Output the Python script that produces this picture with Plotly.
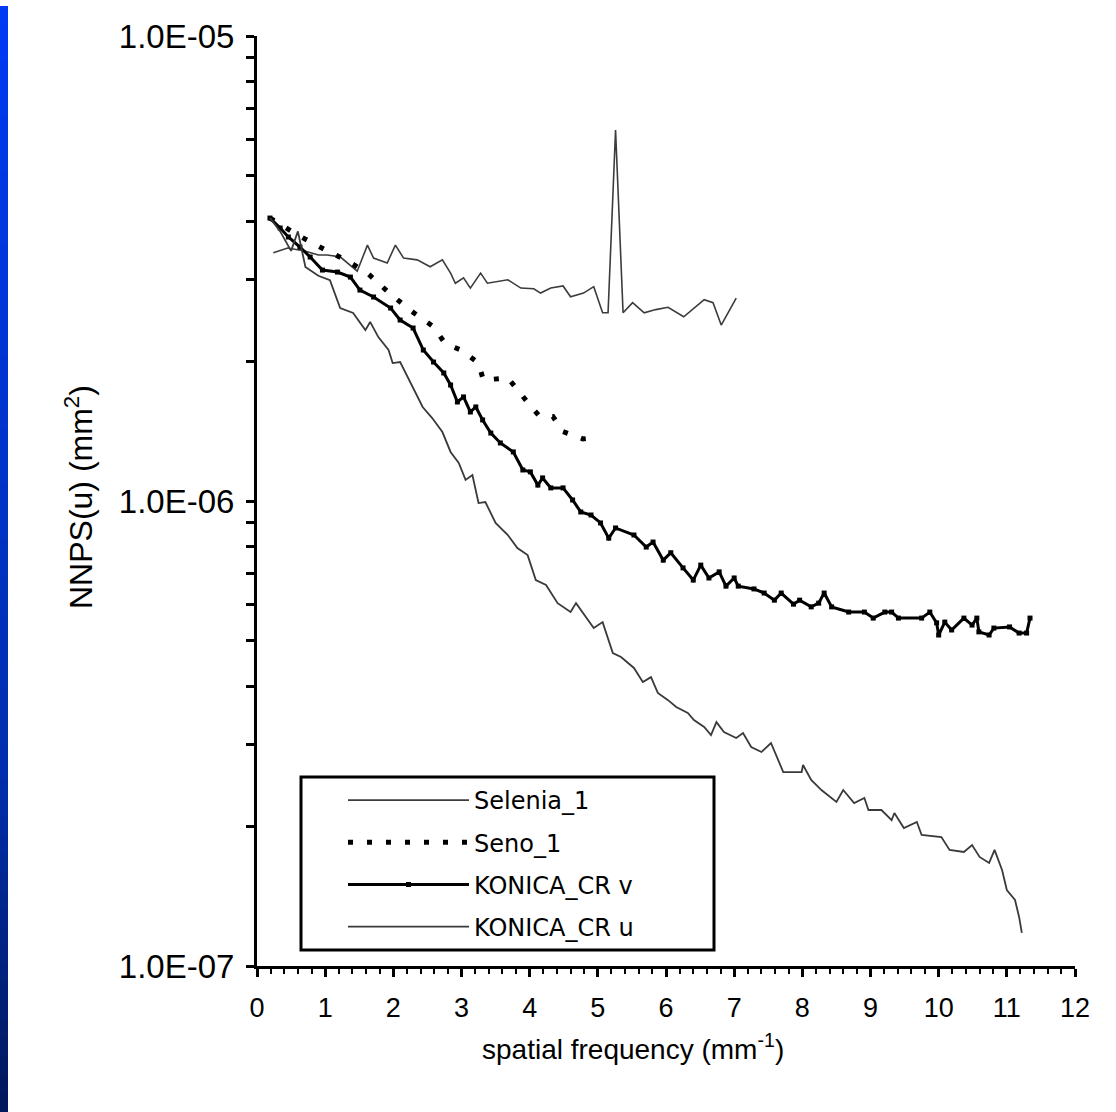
import plotly.graph_objects as go

# ---------------- data (NNPS values in units of 1e-6 mm^2) ----------------
sel_x = [0.24, 0.45, 0.70, 0.90, 1.03, 1.22, 1.47, 1.62, 1.71, 1.91, 2.03, 2.15, 2.35, 2.54,
         2.72, 2.84, 2.91, 3.03, 3.13, 3.28, 3.38, 3.68, 3.87, 4.06, 4.16, 4.31, 4.49, 4.60,
         4.79, 4.94, 5.07, 5.15, 5.26, 5.37, 5.51, 5.68, 5.85, 6.03, 6.26, 6.56, 6.69, 6.81, 7.03]
sel_y = [3.42, 3.50, 3.45, 3.38, 3.38, 3.35, 3.12, 3.55, 3.33, 3.25, 3.55, 3.33, 3.30, 3.19,
         3.30, 3.09, 2.94, 3.02, 2.87, 3.09, 2.94, 2.99, 2.87, 2.86, 2.80, 2.87, 2.90, 2.75,
         2.80, 2.89, 2.54, 2.54, 6.28, 2.54, 2.67, 2.54, 2.58, 2.61, 2.49, 2.71, 2.67, 2.39, 2.73]

seno_x = [0.19, 0.60, 1.00, 1.35, 1.62, 1.93, 2.25, 2.43, 2.59, 2.76, 3.00, 3.25, 3.32, 3.68,
          3.82, 3.97, 4.13, 4.34, 4.49, 4.78, 5.01]
seno_y = [4.06, 3.73, 3.47, 3.27, 3.09, 2.81, 2.57, 2.46, 2.37, 2.18, 2.11, 1.98, 1.82, 1.84,
          1.73, 1.63, 1.53, 1.52, 1.41, 1.36, 1.37]

konv_x = [0.19, 0.34, 0.46, 0.63, 0.78, 0.96, 1.18, 1.37, 1.51, 1.71, 1.96, 2.10, 2.29, 2.44,
          2.59, 2.74, 2.84, 2.94, 3.03, 3.13, 3.21, 3.31, 3.43, 3.57, 3.76, 3.90, 4.01, 4.12,
          4.19, 4.31, 4.49, 4.63, 4.75, 4.90, 5.04, 5.16, 5.26, 5.53, 5.71, 5.81, 5.96, 6.07,
          6.25, 6.40, 6.51, 6.63, 6.78, 6.88, 7.00, 7.06, 7.29, 7.44, 7.59, 7.69, 7.87, 7.96,
          8.13, 8.24, 8.32, 8.43, 8.68, 8.91, 9.04, 9.21, 9.31, 9.41, 9.75, 9.87, 9.97, 10.00,
          10.09, 10.19, 10.37, 10.49, 10.56, 10.59, 10.74, 10.81, 11.04, 11.18, 11.29, 11.34]
konv_y = [4.06, 3.865, 3.696, 3.517, 3.347, 3.138, 3.107, 3.031, 2.842, 2.746, 2.600, 2.45,
          2.355, 2.112, 1.99, 1.885, 1.776, 1.633, 1.674, 1.554, 1.593, 1.494, 1.40, 1.333,
          1.275, 1.166, 1.155, 1.082, 1.121, 1.067, 1.067, 1.005, 0.947, 0.933, 0.897, 0.832,
          0.875, 0.845, 0.796, 0.816, 0.746, 0.774, 0.718, 0.676, 0.728, 0.683, 0.704, 0.656,
          0.683, 0.656, 0.647, 0.634, 0.612, 0.634, 0.600, 0.612, 0.592, 0.603, 0.634, 0.592,
          0.577, 0.577, 0.560, 0.577, 0.577, 0.560, 0.560, 0.577, 0.547, 0.515, 0.549, 0.528,
          0.560, 0.541, 0.560, 0.523, 0.515, 0.533, 0.536, 0.520, 0.520, 0.560]

konu_x = [0.19, 0.34, 0.50, 0.60, 0.71, 0.90, 1.07, 1.22, 1.41, 1.59, 1.66, 1.78, 1.93, 1.99,
          2.10, 2.21, 2.29, 2.43, 2.57, 2.72, 2.84, 2.96, 3.06, 3.16, 3.25, 3.35, 3.50, 3.68,
          3.82, 3.97, 4.09, 4.24, 4.41, 4.60, 4.68, 4.94, 5.07, 5.22, 5.34, 5.44, 5.53, 5.66,
          5.78, 5.88, 6.03, 6.15, 6.32, 6.41, 6.56, 6.66, 6.74, 6.85, 7.03, 7.13, 7.25, 7.40,
          7.54, 7.72, 7.99, 8.01, 8.13, 8.28, 8.50, 8.60, 8.76, 8.91, 8.97, 9.16, 9.31, 9.35,
          9.49, 9.68, 9.75, 10.04, 10.16, 10.37, 10.49, 10.60, 10.74, 10.82, 10.93, 11.00,
          11.12, 11.18, 11.22]
konu_y = [4.06, 3.80, 3.45, 3.80, 3.185, 3.05, 2.986, 2.600, 2.537, 2.331, 2.427, 2.252,
          2.112, 1.98, 1.99, 1.848, 1.750, 1.593, 1.508, 1.407, 1.275, 1.207, 1.110, 1.137,
          0.990, 0.995, 0.897, 0.845, 0.792, 0.765, 0.676, 0.660, 0.603, 0.577, 0.603, 0.533,
          0.549, 0.471, 0.462, 0.448, 0.4375, 0.408, 0.418, 0.3865, 0.373, 0.3606, 0.350,
          0.338, 0.3266, 0.3139, 0.3346, 0.3186, 0.3093, 0.3170, 0.2958, 0.2885, 0.3017,
          0.2613, 0.2613, 0.2705, 0.2512, 0.2390, 0.2253, 0.2390, 0.2241, 0.2297, 0.2165,
          0.2165, 0.2060, 0.2133, 0.1980, 0.2041, 0.1913, 0.1894, 0.1777, 0.1759, 0.1820,
          0.1716, 0.1666, 0.1777, 0.1609, 0.1457, 0.1387, 0.1275, 0.1178]

series_names = ["Selenia_1", "Seno_1", "KONICA_CR v", "KONICA_CR u"]
y_major = [1e-7, 1e-6, 1e-5]
y_major_text = ["1.0E-07", "1.0E-06", "1.0E-05"]
x_title = "spatial frequency (mm<sup>-1</sup>)"
y_title = "NNPS(u) (mm<sup>2</sup>)"
UNIT = 1e-6

# ---------------- layout geometry (page pixels) ----------------
W, H = 1116, 1112
L, R, T, B = 257, 41, 36, 146
PW, PH = W - L - R, H - T - B


def pxx(px):
    return (px - L) / PW


def pyy(py):
    return (H - B - py) / PH


REG = "Liberation Sans, Arial, sans-serif"
NARROW = "Liberation Sans Narrow, Arial Narrow, Liberation Sans, sans-serif"

fig = go.Figure()
fig.add_trace(go.Scatter(x=sel_x, y=[v * UNIT for v in sel_y], name=series_names[0],
                         mode="lines", line=dict(color="#3c3c3c", width=1.6),
                         legendgroup="g1"))
fig.add_trace(go.Scatter(x=seno_x, y=[v * UNIT for v in seno_y], name=series_names[1],
                         mode="lines", line=dict(color="black", width=5, dash="5px,14px"),
                         legendgroup="g2"))
fig.add_trace(go.Scatter(x=konv_x, y=[v * UNIT for v in konv_y], name=series_names[2],
                         mode="lines+markers", line=dict(color="black", width=3),
                         marker=dict(symbol="square", size=5, color="black"),
                         legendgroup="g3"))
fig.add_trace(go.Scatter(x=konu_x, y=[v * UNIT for v in konu_y], name=series_names[3],
                         mode="lines", line=dict(color="#3a3a3a", width=1.8),
                         legendgroup="g4"))

# y minor ticks at 2..9 of each decade
y_minor = [k * 10.0 ** e for e in (-7, -6) for k in range(2, 10)]

fig.update_yaxes(type="log", range=[-7, -5], tickvals=y_major, ticktext=y_major_text,
                 ticks="outside", ticklen=8, tickwidth=3, tickcolor="black",
                 minor=dict(tickvals=y_minor, ticks="outside", ticklen=8, tickwidth=3,
                            tickcolor="black", showgrid=False),
                 showline=True, linewidth=3, linecolor="black", showgrid=False,
                 zeroline=False, tickfont=dict(family=REG, size=33, color="black"),
                 ticklabelstandoff=5)
fig.update_xaxes(range=[0, 12], tick0=0, dtick=1, ticks="outside", ticklen=8,
                 tickwidth=3, tickcolor="black", showline=True, linewidth=3,
                 linecolor="black", showgrid=False, zeroline=False,
                 minor=dict(dtick=0.2, ticklen=5, tickwidth=2, tickcolor="black",
                            ticks="outside", showgrid=False),
                 tickfont=dict(family=NARROW, size=27, color="black"),
                 ticklabelstandoff=8)

# decorative blue gradient bar at the left edge of the slide
shapes = []
N = 60
top_c, mid_c, bot_c = (0, 58, 242), (0, 46, 172), (0, 24, 92)
y_top_px, y_bot_px = 6, H
for i in range(N):
    f = i / (N - 1)
    if f < 0.7:
        g = f / 0.7
        c = [round(top_c[j] + (mid_c[j] - top_c[j]) * g) for j in range(3)]
    else:
        g = (f - 0.7) / 0.3
        c = [round(mid_c[j] + (bot_c[j] - mid_c[j]) * g) for j in range(3)]
    a = y_top_px + (y_bot_px - y_top_px) * i / N
    b = y_top_px + (y_bot_px - y_top_px) * (i + 1) / N + 1
    shapes.append(dict(type="rect", xref="paper", yref="paper", x0=pxx(0), x1=pxx(8),
                       y0=pyy(b), y1=pyy(a), line=dict(width=0),
                       fillcolor="rgb(%d,%d,%d)" % tuple(c), layer="below"))

# legend frame
shapes.append(dict(type="rect", xref="paper", yref="paper", x0=pxx(301), x1=pxx(714),
                   y0=pyy(950), y1=pyy(777), line=dict(color="black", width=3),
                   fillcolor="white", layer="below"))

annotations = [
    dict(text=x_title, xref="paper", yref="paper", x=pxx(633), y=pyy(1047),
         xanchor="center", yanchor="middle", showarrow=False,
         font=dict(family=NARROW, size=28, color="black")),
    dict(text=y_title, xref="paper", yref="paper", x=pxx(79), y=pyy(497),
         xanchor="center", yanchor="middle", textangle=-90, showarrow=False,
         font=dict(family=REG, size=32, color="black")),
]

fig.update_layout(
    width=W, height=H,
    margin=dict(l=L, r=R, t=T, b=B, autoexpand=False),
    paper_bgcolor="white", plot_bgcolor="white",
    shapes=shapes, annotations=annotations,
    showlegend=True,
    legend=dict(x=pxx(343), y=pyy(778), xanchor="left", yanchor="top",
                bgcolor="rgba(0,0,0,0)", borderwidth=0, itemwidth=121,
                tracegroupgap=8, traceorder="grouped",
                font=dict(family="DejaVu Sans, sans-serif", size=24, color="black")),
)

fig.write_html("out.html", config={"displayModeBar": False},
               post_script="document.body.style.margin='0';")
